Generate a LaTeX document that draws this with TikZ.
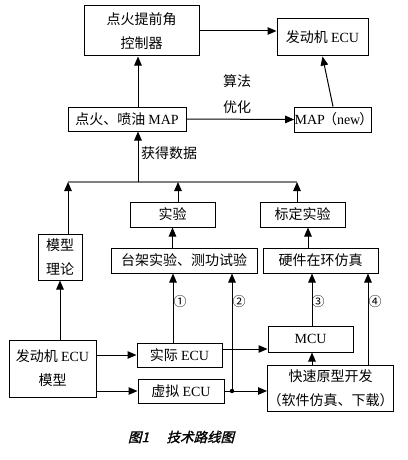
\documentclass[tikz,border=0pt]{standalone}
\usepackage{fontspec}
\setmainfont{Noto Sans CJK SC}
\newfontfamily\en{Liberation Serif}
\newfontfamily\capfont[FakeSlant=0.25,FakeBold=1.5]{Noto Sans CJK SC}
\usetikzlibrary{positioning, arrows.meta, calc}
\tikzset{
  box/.style={draw, line width=1pt, inner sep=0, align=center,
    font=\fontsize{14}{24}\selectfont},
  plain/.style={inner sep=0, align=center, font=\fontsize{14}{24}\selectfont},
  link/.style={->, line width=1pt},
  bus/.style={line width=1.6pt, draw=gray}
}

\begin{document}
\begin{tikzpicture}[x=1pt, y=-1pt, >={Triangle[width=7.5pt,length=9pt]}]
\useasboundingbox (0,0) rectangle (407,460);

% top row
\node [box, minimum width=115, minimum height=50] (ctrl) at (141.5,31) {点火提前角\\控制器};
\node [box, minimum width=91, minimum height=37] (ecutop) at (322.5,37.5) {发动机 {\en ECU}};
\draw[link] (ctrl.east) -- (ctrl.east -| ecutop.west);

% MAP row
\node [box, minimum width=118, minimum height=24] (map) at (127,119) {点火、喷油 {\en MAP}};
\node [box, minimum width=70, minimum height=25] (mapnew) at (333,119.5) {{\en MAP}\kern-2pt（{\en new}\kern-1pt）\kern-2pt};
\node [plain] (algo) at (237,94) {算法\\[2pt]优化};
\draw[link] (map.east) -- (mapnew.west);
\draw[link] (mapnew.north) -- (ecutop.south);

% data bus
\coordinate (b1) at (68,182);
\coordinate (bm) at (138,182);
\coordinate (b2) at (178,182);
\coordinate (b3) at (297,182);
\draw[bus] (b1) -- (b3);
\draw[link] (bm) -- (bm |- map.south);
\draw[link] (map.north -| bm) -- (ctrl.south -| bm);
\node [plain, anchor=west] (data) at (141,153) {获得数据};

% experiments
\node [box, minimum width=85, minimum height=25] (shiyan) at (172.5,214.5) {实验};
\node [box, minimum width=85, minimum height=25] (biaoding) at (302.5,214.5) {标定实验};
\node [box, minimum width=44, minimum height=46] (moxing) at (60,257) {模型\\理论};
\node [box, minimum width=146, minimum height=25] (taijia) at (184,260.5) {台架实验、测功试验};
\node [box, minimum width=115, minimum height=25] (yingjian) at (320.5,260.5) {硬件在环仿真};
\draw[link] (moxing.north -| b1) -- (b1);
\draw[link] (shiyan.north -| b2) -- (b2);
\draw[link] (biaoding.north -| b3) -- (b3);
\draw[link] (taijia.north -| shiyan.south) -- (shiyan.south);
\coordinate (ch) at (308,0);
\draw[link] (yingjian.north -| ch) -- (biaoding.south -| ch);

% ECU row
\node [box, minimum width=87, minimum height=57] (ecumodel) at (52.5,368.5) {发动机 {\en ECU}\\模型};
\node [box, minimum width=85, minimum height=24] (shiji) at (179.5,355) {实际 {\en ECU}};
\node [box, minimum width=86, minimum height=24] (xuni) at (181,391) {虚拟 {\en ECU}};
\node [box, minimum width=85, minimum height=26] (mcu) at (310.5,339) {{\en MCU}};
\node [box, minimum width=125, minimum height=46] (kuaisu) at (330.5,388) {快速原型开发\\（软件仿真、下载）};

\draw[link] (ecumodel.north -| moxing.south) -- (moxing.south);
\draw[link] (ecumodel.east |- shiji.west) -- (shiji.west);
\draw[link] (ecumodel.east |- xuni.west) -- (xuni.west);
\coordinate (s1) at ($(shiji.east)+(0,-6)$);
\draw[link] (s1) -- (s1 -| mcu.west);
\draw[link] (xuni.east) -- (xuni.east -| kuaisu.west);

% numbered paths
\coordinate (c1) at (173,0);
\coordinate (c3) at (312,0);
\coordinate (c4) at (368,0);
\coordinate (dot) at (232,391);
\fill (dot) circle (2.2);
\draw[link] (shiji.north -| c1) -- (taijia.south -| c1);
\draw[link] (dot) -- (taijia.south -| dot);
\draw[link] (mcu.north -| c3) -- (yingjian.south -| c3);
\draw[link] (kuaisu.north -| c4) -- (yingjian.south -| c4);
\draw[link] (kuaisu.north -| c3) -- (mcu.south -| c3);
\node [plain, font=\fontsize{13}{13}\selectfont] (n1) at (180,302) {①};
\node [plain, font=\fontsize{13}{13}\selectfont] (n2) at (239,302) {②};
\node [plain, font=\fontsize{13}{13}\selectfont] (n3) at (318,302) {③};
\node [plain, font=\fontsize{13}{13}\selectfont] (n4) at (375,302) {④};

% caption
\node [inner sep=0, font=\capfont\fontsize{13.5}{13.5}\selectfont] (cap) at (181,437) {图1\hspace{1.3em}技术路线图};
\end{tikzpicture}
\end{document}
